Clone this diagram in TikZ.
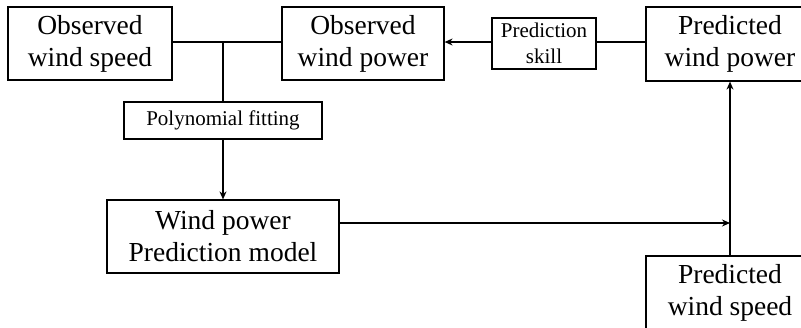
\documentclass[tikz,border=0pt]{standalone}
\usepackage{fontspec}
\setmainfont{Liberation Serif}
\usetikzlibrary{arrows.meta}
\begin{document}
\begin{tikzpicture}[x=1pt,y=-1pt,
  box/.style={draw,line width=1.2pt,inner sep=0pt,align=center,font=\fontsize{27.5}{32}\selectfont},
  sbox/.style={draw,line width=1.2pt,inner sep=0pt,align=center,font=\fontsize{21}{26}\selectfont},
  conn/.style={line width=1.2pt},
  arr/.style={line width=1.2pt,-{Stealth[length=8pt,width=7pt]}}]
\useasboundingbox (0,0) rectangle (801,327);
\clip (0,0) rectangle (801,327);
\node[box,minimum width=164pt,minimum height=73pt] (ows) at (90,43.5) {Observed\\wind speed};
\node[box,minimum width=162pt,minimum height=73pt] (owp) at (363,43.5) {Observed\\wind power};
\node[sbox,minimum width=104pt,minimum height=51pt] (ps) at (544,43.5) {Prediction\\skill};
\node[box,minimum width=168pt,minimum height=74pt] (pwp) at (730,44) {Predicted\\wind power};
\node[sbox,minimum width=198pt,minimum height=37pt] (pf) at (223,120.5) {Polynomial fitting};
\node[box,minimum width=232pt,minimum height=73pt] (wpm) at (223,236.5) {Wind power\\Prediction model};
\node[box,minimum width=168pt,minimum height=73pt] (pws) at (730,292.5) {Predicted\\wind speed};
\coordinate (j) at (223,42);
\coordinate (m) at (730,223);
\draw[conn] (ows.east |- j) -- (owp.west |- j);
\draw[conn] (j) -- (pf.north);
\draw[arr] (pf.south) -- (wpm.north);
\draw[conn] (pwp.west |- j) -- (ps.east |- j);
\draw[arr] (ps.west |- j) -- (owp.east |- j);
\draw[arr] (pws.north) -- (pwp.south);
\draw[arr] (wpm.east |- m) -- (m);
\end{tikzpicture}
\end{document}
